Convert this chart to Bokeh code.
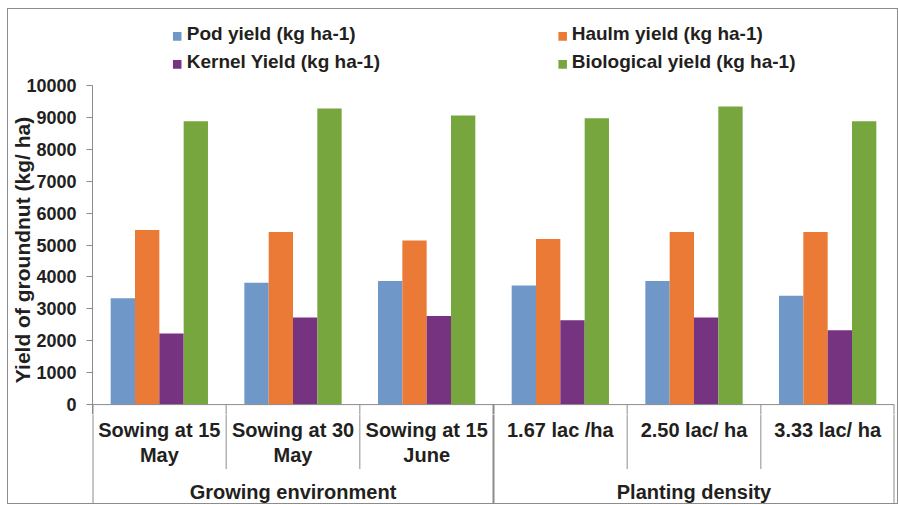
from bokeh.plotting import figure
from bokeh.layouts import column
from bokeh.models import FactorRange, Range1d, ColumnDataSource, FixedTicker
from bokeh.transform import dodge
from bokeh.core.properties import value
from bokeh.embed import file_html
from bokeh.resources import INLINE

# ---------------- data ----------------
groups = ["Growing environment", "Planting density"]
categories = [
    ["Sowing at 15 May", "Sowing at 30 May", "Sowing at 15 June"],
    ["1.67 lac /ha", "2.50 lac/ ha", "3.33 lac/ ha"],
]
label_line1 = ["Sowing at 15", "Sowing at 30", "Sowing at 15",
               "1.67 lac /ha", "2.50 lac/ ha", "3.33 lac/ ha"]
label_line2 = ["May", "May", "June", "", "", ""]

series_names = ["Pod yield (kg ha-1)", "Haulm yield (kg ha-1)",
                "Kernel Yield (kg ha-1)", "Biological yield (kg ha-1)"]
pod = [3330, 3820, 3870, 3730, 3870, 3410]
haulm = [5470, 5410, 5140, 5190, 5410, 5410]
kernel = [2230, 2730, 2780, 2640, 2730, 2330]
biological = [8880, 9280, 9060, 8970, 9340, 8880]
y_ticks = [0, 1000, 2000, 3000, 4000, 5000, 6000, 7000, 8000, 9000, 10000]
y_title = "Yield of groundnut (kg/ ha)"

# ---------------- styles / layout ----------------
colors = ["#6f97c8", "#ea7a35", "#753380", "#77a63e"]
GRAY = "#8c8c8c"
BORDER = "1px solid #8c8c8c"
TXT = "#231f20"
FONT = "Liberation Sans"
W = 0.182
FIG_W = 891
LEG_SQ_X = [176.5, 561]      # legend square centre per column (px)
LEG_TXT_X = [186, 570]       # legend text start per column (px)
LEG_SQ_Y = [35.5, 63]        # legend square centre per row (px)
LEG_TXT_Y = [33, 60.5]       # legend text anchor per row (px)

factors = [(g, c) for g, cs in zip(groups, categories) for c in cs]
n = len(factors)
src = ColumnDataSource(dict(x=factors, pod=pod, haulm=haulm,
                            kernel=kernel, bio=biological))
xr = FactorRange(*factors, group_padding=0, factor_padding=0, range_padding=0)

# separator positions of the category table
inner, outer = [], [0]
pos = 0
for cs in categories:
    for j in range(1, len(cs)):
        inner.append(pos + j)
    pos += len(cs)
    outer.append(pos)


def base_fig(**kw):
    f = figure(toolbar_location=None, output_backend="svg",
               outline_line_color=None, background_fill_color="white",
               border_fill_color="white", min_border_left=84,
               min_border_right=5, min_border_bottom=0, **kw)
    f.grid.grid_line_color = None
    return f


# ---------- legend strip ----------
leg = base_fig(width=FIG_W, height=67, x_range=Range1d(92, 892),
               y_range=Range1d(75, 9), x_axis_location=None,
               y_axis_location=None, min_border_top=0)
leg.styles = {"border-top": BORDER, "border-left": BORDER,
              "border-right": BORDER}
cols = [i % 2 for i in range(len(series_names))]
rows = [i // 2 for i in range(len(series_names))]
leg.rect(x=[LEG_SQ_X[c] for c in cols], y=[LEG_SQ_Y[r] for r in rows],
         width=8.5, height=8.5, fill_color=colors, line_color=None)
leg.text(x=[LEG_TXT_X[c] for c in cols], y=[LEG_TXT_Y[r] for r in rows],
         text=series_names, text_font=value(FONT), text_font_style="bold",
         text_font_size="19px", text_align="left",
         text_baseline="alphabetic", text_color=TXT)

# ---------- chart (bars) ----------
p = base_fig(width=FIG_W, height=339, x_range=xr,
             y_range=Range1d(-310, 10000), x_axis_location=None,
             min_border_top=10)
p.styles = {"border-left": BORDER, "border-right": BORDER}

offsets = [-1.5 * W, -0.5 * W, 0.5 * W, 1.5 * W]
for key, off, col in zip(["pod", "haulm", "kernel", "bio"], offsets, colors):
    p.vbar(x=dodge("x", off, range=xr), top=key, width=W,
           source=src, fill_color=col, line_color=None)

p.segment(x0=[0], y0=[0], x1=[n], y1=[0], line_color=GRAY, line_width=1)
p.segment(x0=inner, y0=[0] * len(inner), x1=inner, y1=[-1000] * len(inner),
          line_color=GRAY, line_width=1)
p.segment(x0=outer, y0=[0] * len(outer), x1=outer, y1=[-1000] * len(outer),
          line_color=GRAY, line_width=2)

yax = p.yaxis[0]
yax.ticker = FixedTicker(ticks=y_ticks)
yax.axis_line_color = GRAY
yax.major_tick_line_color = GRAY
yax.major_tick_out = 6
yax.major_tick_in = 0
yax.minor_tick_line_color = None
yax.major_label_text_font = FONT
yax.major_label_text_font_style = "bold"
yax.major_label_text_font_size = "18px"
yax.major_label_text_color = TXT
yax.major_label_standoff = 10
yax.axis_label = y_title
yax.axis_label_text_font = FONT
yax.axis_label_text_font_style = "bold"
yax.axis_label_text_font_size = "21px"
yax.axis_label_text_color = TXT
yax.axis_label_standoff = -11

# ---------- category table below the bars ----------
t = base_fig(width=FIG_W, height=90, x_range=xr, y_range=Range1d(-99, -10),
             x_axis_location=None, y_axis_location=None, min_border_top=0)
t.styles = {"border-bottom": BORDER, "border-left": BORDER,
            "border-right": BORDER}

t.segment(x0=inner, y0=[0] * len(inner), x1=inner, y1=[-64] * len(inner),
          line_color=GRAY, line_width=1)
t.segment(x0=outer, y0=[0] * len(outer), x1=outer, y1=[-100] * len(outer),
          line_color=GRAY, line_width=2)

common = dict(text_font=value(FONT), text_font_style="bold",
              text_font_size="20px", text_align="center",
              text_baseline="alphabetic", text_color=TXT)
t.text(x=factors, y=[-25.5] * n, text=label_line1, **common)
t.text(x=factors, y=[-50] * n, text=label_line2, **common)
t.text(x=groups, y=[-86.5] * len(groups), text=groups, **common)

layout = column(leg, p, t, spacing=0,
                styles={"margin-left": "7px", "margin-top": "8px"})

open("out.html", "w").write(file_html(layout, INLINE))
